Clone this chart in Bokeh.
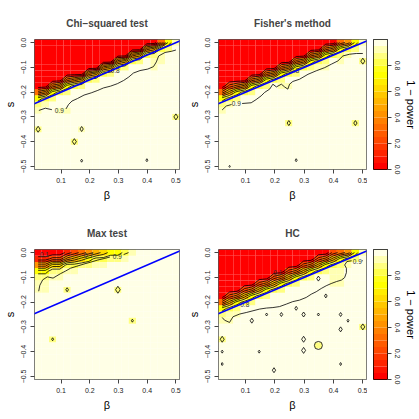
import numpy as np
from bokeh.plotting import figure
from bokeh.models import (Range1d, FixedTicker, Slope, LinearColorMapper,
                          ColumnDataSource, CustomJSTickFormatter)
from bokeh.layouts import row, column
from bokeh.transform import transform
from bokeh.embed import file_html
from bokeh.resources import INLINE
from bokeh.core.properties import value

# ---------------- data ----------------
# simulation grid: beta = seq(0.02, 0.5, length = 20), s = seq(-0.5, 0, by = 0.025)
BETA = [0.02 + k * 0.48 / 19 for k in range(20)]
S_GRID = [-0.5 + 0.025 * k for k in range(21)]

X_TICKS = [0.1, 0.2, 0.3, 0.4, 0.5]
S_TICKS = [-0.5, -0.4, -0.3, -0.2, -0.1, 0.0]
KEY_TICKS = [0.0, 0.2, 0.4, 0.6, 0.8]
KEY_LEVELS = [0.00, 0.05, 0.10, 0.15, 0.20, 0.25, 0.30, 0.35, 0.40, 0.45, 0.50,
              0.55, 0.60, 0.65, 0.70, 0.75, 0.80, 0.85, 0.90, 0.95, 1.00]
CONTOUR_LEVELS = [0.1, 0.2, 0.3, 0.4, 0.5, 0.6, 0.7, 0.8]

# detection boundary  s = beta/2 - 1/4
BOUNDARY_SLOPE = 0.5
BOUNDARY_INTERCEPT = -0.25

# heat.colors(20)
HEAT = ["#FF0000", "#FF1200", "#FF2400", "#FF3700", "#FF4900", "#FF5B00", "#FF6D00",
        "#FF8000", "#FF9200", "#FFA400", "#FFB600", "#FFC800", "#FFDB00", "#FFED00",
        "#FFFF00", "#FFFF1A", "#FFFF4D", "#FFFF80", "#FFFFB3", "#FFFFE6"]

# cell value codes (1 - power)
CELL_CODE = {'0': 0.02, '1': 0.14, '2': 0.24, '3': 0.34, '4': 0.44, '5': 0.54,
             '6': 0.64, '7': 0.74, '8': 0.84, '9': 0.88, 'p': 0.93, '.': 0.97}

# rows from s = 0 (top) down to s = -0.5 ; columns beta 0.02 .. 0.5
CHI_ROWS = [
    "0" * 17 + "37p",
    "0" * 15 + "4589.",
    "0" * 13 + "4589p..",
    "0" * 11 + "4589.pp..",
    "0" * 9 + "4589...p...",
    "0" * 7 + "4589" + "." * 9,
    "0000" + "34589" + "." * 11,
    "00" + "34789" + "." * 13,
    "34789" + "." * 15,
    "789" + "." * 17,
    "9p" + "." * 18,
    "p..pp" + "." * 15,
    "." * 19 + "9",
    "." * 20,
    "9" + "." * 5 + "p" + "." * 13,
    "." * 20,
    "." * 5 + "9" + "." * 14,
    "." * 20, "." * 20, "." * 20, "." * 20,
]
FISHER_ROWS = [
    "0" * 16 + "347p",
    "0" * 14 + "34789.",
    "0" * 12 + "34789p..",
    "0" * 10 + "34789.p..9",
    "0" * 8 + "34789pp" + ".....",
    "0" * 6 + "34789" + "." * 9,
    "0" * 4 + "34789" + "." * 11,
    "0" + "234789" + ".pp" + "." * 10,
    "35789" + "." * 15,
    "789" + "." * 17,
    "9p" + "." * 18,
    "p" + "." * 19,
    "." * 20,
    "." * 9 + "9" + "." * 8 + "9" + ".",
    "." * 20, "." * 20, "." * 20, "." * 20, "." * 20, "." * 20, "." * 20,
]
MAX_ROWS = [
    "0000" + "1234567" + "78p" + "......",
    "112245678899p" + ".......",
    "44668899pp" + "." * 10,
    "7799pp" + "." * 14,
    "99pp" + "." * 16,
    "pp" + "." * 18,
    "pp" + ".." + "9" + "." * 6 + "9" + "." * 8,
    "." * 20, "." * 20, "." * 20, "." * 20,
    "." * 13 + "9" + "." * 6,
    "." * 20, "." * 20,
    ".." + "9" + "." * 17,
    "." * 20, "." * 20, "." * 20, "." * 20, "." * 20, "." * 20,
]
HC_ROWS = [
    "0" * 15 + "2347p",
    "0" * 13 + "235789.",
    "0" * 11 + "235789p..",
    "0" * 9 + "235789pp...",
    "0" * 7 + "235789" + "..pp...",
    "0" * 5 + "235789" + "....pp...",
    "000" + "235789" + "." * 11,
    "0" + "235789" + "." * 13,
    "35789" + "." * 15,
    "789" + "." * 17,
    "9pp" + "." * 17,
    "pp" + "." * 18,
    "." * 19 + "9",
    "." * 20,
    "9" + "." * 19,
    "." * 13 + "9" + "." * 6,
    "." * 20, "." * 20, "." * 20, "." * 20, "." * 20,
]

# 0.9 contour (meandering)
CHI_M_B = [[0.0226, 0.045, 0.068],
           [0.117, 0.126, 0.138, 0.157, 0.180, 0.205, 0.228, 0.248, 0.272, 0.296, 0.318,
            0.336, 0.352, 0.375, 0.402, 0.422, 0.432, 0.440, 0.462, 0.485, 0.500]]
CHI_M_S = [[-0.274, -0.265, -0.271],
           [-0.268, -0.250, -0.236, -0.226, -0.212, -0.203, -0.193, -0.183, -0.176, -0.166,
            -0.153, -0.139, -0.123, -0.113, -0.107, -0.097, -0.078, -0.054, -0.040, -0.035, -0.030]]
FISHER_M_B = [[0.02, 0.034, 0.052],
              [0.088, 0.119, 0.136, 0.153, 0.165, 0.182, 0.193, 0.205, 0.222, 0.233, 0.244,
               0.250, 0.261, 0.284, 0.313, 0.341, 0.370, 0.393, 0.415, 0.432, 0.455, 0.478, 0.500]]
FISHER_M_S = [[-0.272, -0.256, -0.250],
              [-0.246, -0.243, -0.230, -0.215, -0.201, -0.188, -0.168, -0.179, -0.168, -0.179,
               -0.188, -0.168, -0.157, -0.148, -0.128, -0.114, -0.101, -0.087, -0.074, -0.054,
               -0.047, -0.044, -0.044]]
MAX_M_B = [[0.022, 0.026, 0.036, 0.052, 0.072, 0.098, 0.115, 0.133, 0.155, 0.180, 0.205,
            0.228, 0.250, 0.270],
           [0.318, 0.335]]
MAX_M_S = [[-0.156, -0.132, -0.110, -0.098, -0.103, -0.085, -0.075, -0.063, -0.055, -0.046,
            -0.038, -0.030, -0.024, -0.018],
           [-0.008, 0.0]]
HC_M_B = [[0.02, 0.028, 0.045, 0.057, 0.080, 0.102, 0.125, 0.148, 0.171, 0.193, 0.216,
           0.239, 0.261, 0.284, 0.307, 0.324, 0.341, 0.358, 0.375, 0.392, 0.410, 0.427,
           0.438, 0.444, 0.444, 0.438, 0.446, 0.462],
          [0.497, 0.500]]
HC_M_S = [[-0.262, -0.273, -0.282, -0.259, -0.248, -0.242, -0.235, -0.228, -0.224, -0.222,
           -0.218, -0.208, -0.198, -0.192, -0.181, -0.168, -0.158, -0.145, -0.134, -0.125,
           -0.117, -0.111, -0.101, -0.081, -0.063, -0.050, -0.036, -0.033],
          [-0.033, -0.033]]

# contour labels
CHI_LAB = (["0.9", "0.8"], [0.094, 0.288], [-0.275, -0.114])
FISHER_LAB = (["0.9", "0.8"], [0.068, 0.267], [-0.247, -0.114])
MAX_LAB = (["0.1", "0.7", "0.9"], [0.042, 0.196, 0.296], [-0.006, -0.013, -0.016])
HC_LAB = (["0.9", "0.8", "0.1"], [0.481, 0.097, 0.21], [-0.037, -0.211, -0.08])

# isolated 0.9 contours (small closed loops)
CHI_SPOT_B = [0.1716, 0.1463, 0.1716, 0.399, 0.02, 0.50]
CHI_SPOT_S = [-0.349, -0.40, -0.477, -0.475, -0.35, -0.30]
FISHER_SPOT_B = [0.2474, 0.4747, 0.2726, 0.0453, 0.50]
FISHER_SPOT_S = [-0.325, -0.325, -0.475, -0.50, -0.075]
MAX_SPOT_B = [0.1211, 0.2979, 0.3484, 0.0705]
MAX_SPOT_S = [-0.15, -0.15, -0.275, -0.35]
HC_SPOT_B = [0.1211, 0.1716, 0.2221, 0.2979, 0.3484, 0.4242, 0.3737, 0.3484, 0.2726,
             0.4495, 0.4242, 0.3484, 0.2979, 0.2979, 0.1463, 0.02, 0.02, 0.1968, 0.4242,
             0.02, 0.50]
HC_SPOT_S = [-0.275, -0.25, -0.25, -0.25, -0.25, -0.25, -0.175, -0.105, -0.225,
             -0.275, -0.31, -0.375, -0.35, -0.395, -0.40, -0.40, -0.45, -0.475, -0.45,
             -0.35, -0.30]

# ---------------- styling ----------------
CHI_SPOT_PX = [5, 6, 3, 3, 6, 6]
FISHER_SPOT_PX = [5, 5, 3, 2, 6]
MAX_SPOT_PX = [4, 7, 3, 3]
HC_SPOT_PX = [5, 3, 4, 5, 3, 4, 4, 5, 4, 3, 5, 8, 6, 6, 3, 3, 3, 5, 3, 6, 6]
HC_SPOT_MK = ["diamond"] * 11 + ["circle"] + ["diamond"] * 9

FONT = "Liberation Sans"
DB = BETA[1] - BETA[0]
DS = S_GRID[1] - S_GRID[0]
MAPPER = LinearColorMapper(palette=HEAT, low=0.0, high=1.0)
FMT = "return tick.toFixed(1).replace('-', '\u2212');"


def style_axis(ax, tick_out, standoff, label_standoff):
    ax.axis_line_color = None
    ax.major_tick_line_color = "#444444"
    ax.minor_tick_line_color = None
    ax.major_tick_in = 0
    ax.major_tick_out = tick_out
    ax.major_label_standoff = standoff
    ax.axis_label_standoff = label_standoff
    ax.major_label_text_font = FONT
    ax.major_label_text_font_size = "7px"
    ax.major_label_text_color = "#222222"
    ax.axis_label_text_font = FONT
    ax.axis_label_text_font_style = "normal"
    ax.axis_label_text_font_size = "11px"
    ax.axis_label_text_color = "#000000"
    ax.formatter = CustomJSTickFormatter(code=FMT)


def panel(title, rows, mb, ms, lab, sb, ss, spx, smk, width, left, right, top, bottom):
    z = np.array([[CELL_CODE[c] for c in r] for r in rows[::-1]])
    xs, ys, zs = [], [], []
    for i, sv in enumerate(S_GRID):
        for j, bv in enumerate(BETA):
            xs.append(bv)
            ys.append(sv)
            zs.append(float(z[i, j]))
    p = figure(width=width, height=top + 130 + bottom,
               x_range=Range1d(BETA[0] - DB / 2, BETA[-1] + DB / 2),
               y_range=Range1d(S_GRID[0] - DS / 2, S_GRID[-1] + DS / 2),
               output_backend="svg", toolbar_location=None,
               min_border_left=left, min_border_right=right,
               min_border_top=top, min_border_bottom=bottom, title=title)
    p.rect(x="x", y="y", width=DB, height=DS,
           source=ColumnDataSource(dict(x=xs, y=ys, z=zs)),
           fill_color=transform("z", MAPPER), line_color=None)
    p.contour(np.array(BETA), np.array(S_GRID), z, levels=CONTOUR_LEVELS,
              line_color="black", line_width=0.8)
    p.multi_line(xs=mb, ys=ms, line_color="black", line_width=0.8)
    p.scatter(x=sb, y=ss, size=spx, marker=smk, fill_color=None,
              line_color="black", line_width=0.8)
    p.text(x=lab[1], y=lab[2], text=lab[0], text_font=value(FONT),
           text_font_size="6.5px", text_color="#333333",
           text_align="center", text_baseline="middle")
    p.add_layout(Slope(gradient=BOUNDARY_SLOPE, y_intercept=BOUNDARY_INTERCEPT,
                       line_color="blue", line_width=1.6))
    p.xgrid.visible = False
    p.ygrid.visible = False
    p.outline_line_color = "#555555"
    p.outline_line_width = 1
    p.background_fill_color = "white"
    p.border_fill_color = "white"
    p.title.align = "center"
    p.title.text_font = FONT
    p.title.text_font_size = "10px"
    p.title.text_font_style = "bold"
    p.title.standoff = 22
    xa = p.xaxis[0]
    xa.ticker = FixedTicker(ticks=X_TICKS)
    xa.axis_label = "\u03b2"
    style_axis(xa, 4, 4, 3)
    ya = p.yaxis[0]
    ya.ticker = FixedTicker(ticks=S_TICKS)
    ya.axis_label = "s"
    style_axis(ya, 4, 4, 3)
    ya.major_label_orientation = "vertical"
    return p


def key(top, bottom):
    c = figure(width=52, height=top + 130 + bottom, x_range=Range1d(0, 1),
               y_range=Range1d(0, 1), y_axis_location="right",
               output_backend="svg", toolbar_location=None,
               min_border_left=6, min_border_right=30,
               min_border_top=top, min_border_bottom=bottom)
    c.quad(left=0, right=1, bottom=KEY_LEVELS[:-1], top=KEY_LEVELS[1:],
           fill_color=HEAT, line_color=None)
    c.xaxis.visible = False
    c.xgrid.visible = False
    c.ygrid.visible = False
    c.outline_line_color = "black"
    c.border_fill_color = "white"
    ax = c.yaxis[0]
    ax.ticker = FixedTicker(ticks=KEY_TICKS)
    ax.axis_label = "1 \u2212 power"
    style_axis(ax, 4, 3, 2)
    ax.major_label_orientation = "vertical"
    return c


TOP_T, TOP_B = 39, 41
BOT_T, BOT_B = 39, 40

p1 = panel("Chi\u2212squared test", CHI_ROWS, CHI_M_B, CHI_M_S, CHI_LAB,
           CHI_SPOT_B, CHI_SPOT_S, CHI_SPOT_PX, ["diamond"] * len(CHI_SPOT_B),
           183, 31, 4, TOP_T, TOP_B)
p2 = panel("Fisher's method", FISHER_ROWS, FISHER_M_B, FISHER_M_S, FISHER_LAB,
           FISHER_SPOT_B, FISHER_SPOT_S, FISHER_SPOT_PX, ["diamond"] * len(FISHER_SPOT_B),
           184, 35, 1, TOP_T, TOP_B)
p3 = panel("Max test", MAX_ROWS, MAX_M_B, MAX_M_S, MAX_LAB,
           MAX_SPOT_B, MAX_SPOT_S, MAX_SPOT_PX, ["diamond"] * len(MAX_SPOT_B),
           183, 31, 4, BOT_T, BOT_B)
p4 = panel("HC", HC_ROWS, HC_M_B, HC_M_S, HC_LAB,
           HC_SPOT_B, HC_SPOT_S, HC_SPOT_PX, HC_SPOT_MK,
           184, 35, 1, BOT_T, BOT_B)
k1 = key(TOP_T, TOP_B)
k2 = key(BOT_T, BOT_B)

layout = column(row(p1, p2, k1), row(p3, p4, k2))
open("out.html", "w", encoding="utf-8").write(file_html(layout, INLINE, "power"))
